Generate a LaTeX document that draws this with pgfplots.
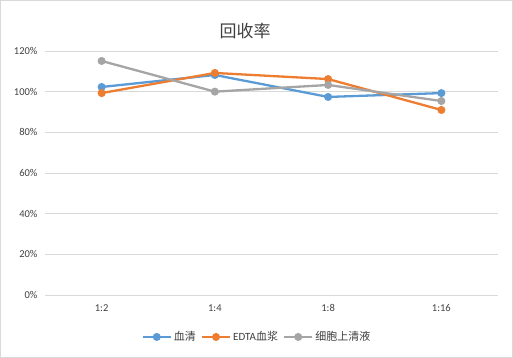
\documentclass[border=0pt]{standalone}
\usepackage{pgfplots}
\pgfplotsset{compat=1.18}
\usepackage{fontspec}
\setmainfont{Carlito}
\newfontfamily\cjk{Noto Sans CJK SC}
\definecolor{cblue}{HTML}{5B9BD5}
\definecolor{corange}{HTML}{ED7D31}
\definecolor{cgray}{HTML}{A5A5A5}
\definecolor{ctext}{HTML}{404040}
\definecolor{cgrid}{HTML}{D9D9D9}
\begin{document}
\begin{tikzpicture}
\draw[cgrid, line width=0.8pt] (0.4pt,0.4pt) rectangle (512.6pt,357.6pt);
\begin{axis}[
  at={(45pt,63pt)}, anchor=south west,
  scale only axis, width=453pt, height=244pt,
  xmin=-0.5, xmax=3.5, ymin=0, ymax=120,
  xtick={0,1,2,3}, xticklabels={1:2,1:4,1:8,1:16},
  ytick={0,20,40,60,80,100,120},
  yticklabel={\pgfmathprintnumber{\tick}\%},
  /pgf/number format/assume math mode=true,
  ymajorgrids, grid style={cgrid, line width=0.8pt},
  axis line style={draw=none},
  major tick length=0pt,
  ticklabel style={font=\fontsize{10.5}{12}\selectfont, text=ctext},
  xticklabel style={yshift=-6pt},
  yticklabel style={xshift=-4pt},
  title={\cjk 回收率},
  title style={font=\fontsize{17}{19}\selectfont, text=ctext, at={(0.442,1)}, anchor=center, yshift=14pt},
  legend columns=3,
  legend style={draw=none, at={(0.468,-0.172)}, anchor=center, font=\fontsize{11}{13}\selectfont, text=ctext,
    /tikz/every even column/.append style={column sep=3pt}},
  legend image code/.code={
    \draw[#1, mark=none] (0pt,0pt) -- (28pt,0pt);
    \draw[#1, only marks] plot coordinates {(14pt,0pt)};
  },
  every axis plot/.append style={line width=2.3pt, mark=*, mark size=2.8pt, mark options={solid}},
]
\addplot[cblue, mark options={fill=cblue, draw=cblue}] coordinates {(0,102.3) (1,108.2) (2,97.4) (3,99.3)};
\addlegendentry{\cjk 血清}
\addplot[corange, mark options={fill=corange, draw=corange}] coordinates {(0,99.3) (1,109.2) (2,106.2) (3,91.0)};
\addlegendentry{EDTA\cjk 血浆}
\addplot[cgray, mark options={fill=cgray, draw=cgray}] coordinates {(0,115.1) (1,100.0) (2,103.3) (3,95.4)};
\addlegendentry{\cjk 细胞上清液}
\end{axis}
\end{tikzpicture}
\end{document}
